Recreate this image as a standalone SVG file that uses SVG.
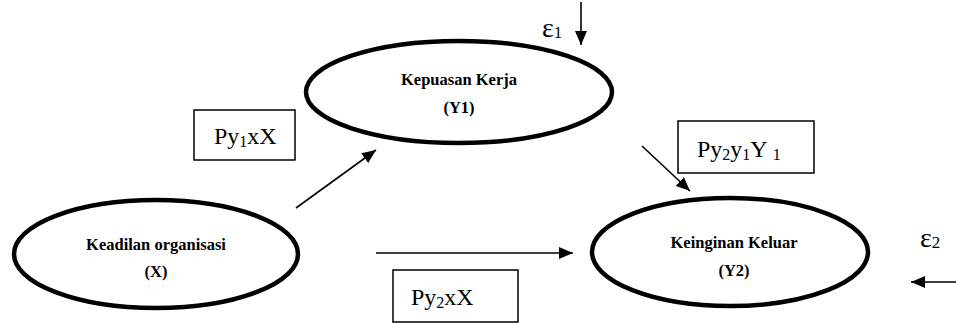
<svg xmlns="http://www.w3.org/2000/svg" width="956" height="324" viewBox="0 0 956 324">
<defs>
<marker id="ahL" viewBox="0 0 14 12" refX="14" refY="6" markerWidth="14" markerHeight="12" markerUnits="userSpaceOnUse" orient="auto">
<path d="M0,0 L14,6 L0,12 z" fill="#000"/>
</marker>
</defs>
<style>
.ell{fill:#fff;stroke:#000;stroke-width:4.5}
.box{fill:#fff;stroke:#000;stroke-width:1.5}
.lbl{font-family:"Liberation Serif","Times New Roman",serif;font-weight:bold;font-size:16.5px;fill:#000;text-anchor:middle}
.coef{font-family:"Liberation Serif","Times New Roman",serif;font-size:24px;fill:#000}
.sub{font-size:16px}
.eps{font-family:"Liberation Serif","Times New Roman",serif;font-size:28px;fill:#000}
.esub{font-size:17px}
.conn{stroke:#000;stroke-width:1.6;fill:none}
</style>
<rect width="956" height="324" fill="#fff"/>
<g id="connectors">
<line class="conn" x1="296" y1="208" x2="376" y2="150" marker-end="url(#ahL)"/>
<line class="conn" x1="642" y1="146" x2="690" y2="191" marker-end="url(#ahL)"/>
<line class="conn" x1="376" y1="253" x2="573" y2="253" marker-end="url(#ahL)"/>
<line class="conn" x1="581" y1="2" x2="581" y2="45" marker-end="url(#ahL)"/>
<line class="conn" x1="956" y1="282" x2="911" y2="282" marker-end="url(#ahL)"/>
</g>
<g id="node-Y1">
<ellipse class="ell" cx="459" cy="92" rx="153" ry="51"/>
<text class="lbl" x="459" y="85">Kepuasan Kerja</text>
<text class="lbl" x="459" y="113">(Y1)</text>
</g>
<g id="node-X">
<ellipse class="ell" cx="156" cy="254" rx="142" ry="54"/>
<text class="lbl" x="156" y="250">Keadilan organisasi</text>
<text class="lbl" x="156" y="277">(X)</text>
</g>
<g id="node-Y2">
<ellipse class="ell" cx="730" cy="252" rx="138" ry="54"/>
<text class="lbl" x="734" y="248">Keinginan Keluar</text>
<text class="lbl" x="734" y="276">(Y2)</text>
</g>
<g id="coef-Py1xX">
<rect class="box" x="194" y="110" width="101" height="50"/>
<text class="coef" x="214" y="144">Py<tspan class="sub" dy="3">1</tspan><tspan dy="-3">xX</tspan></text>
</g>
<g id="coef-Py2y1Y1">
<rect class="box" x="678" y="121" width="136" height="52"/>
<text class="coef" x="697" y="157">Py<tspan class="sub" dy="3">2</tspan><tspan dy="-3">y</tspan><tspan class="sub" dy="3">1</tspan><tspan dy="-3">Y </tspan><tspan class="sub" dy="3">1</tspan></text>
</g>
<g id="coef-Py2xX">
<rect class="box" x="393" y="270" width="125" height="52"/>
<text class="coef" x="411" y="305">Py<tspan class="sub" dy="3">2</tspan><tspan dy="-3">xX</tspan></text>
</g>
<g id="eps1">
<text class="eps" x="542" y="37">ε<tspan class="esub" dy="1">1</tspan></text>
</g>
<g id="eps2">
<text class="eps" x="920" y="247">ε<tspan class="esub" dy="1">2</tspan></text>
</g>
</svg>
